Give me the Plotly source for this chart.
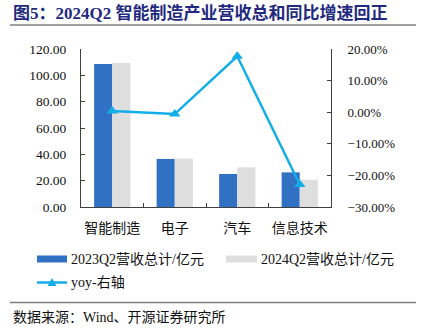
import plotly.graph_objects as go

categories = ["智能制造", "电子", "汽车", "信息技术"]
rev_2023q2 = [108.6, 36.5, 25.1, 26.3]
rev_2024q2 = [109.4, 36.7, 30.1, 20.7]
yoy_pct = [0.4, -0.6, 17.7, -22.9]

name_2023 = "2023Q2营收总计/亿元"
name_2024 = "2024Q2营收总计/亿元"
name_yoy = "yoy-右轴"
title_text = "图5：2024Q2 智能制造产业营收总和同比增速回正"
source_text = "数据来源：Wind、开源证券研究所"

W, H = 424, 330
ML, MR, MT, MB = 81, 93, 49, 123
PW, PH = W - ML - MR, H - MT - MB

def px(x):
    return (x - ML) / PW

def py(y):
    return (H - MB - y) / PH

C_BLUE = "#3071C3"
C_GRAY = "#DEDEDE"
C_LINE = "#12AEE8"
FONT = "Liberation Serif, Noto Sans CJK SC"

fig = go.Figure()
fig.add_trace(go.Bar(x=categories, y=rev_2023q2, name=name_2023, marker_color=C_BLUE,
                     marker_line_width=0))
fig.add_trace(go.Bar(x=categories, y=rev_2024q2, name=name_2024, marker_color=C_GRAY,
                     marker_line_width=0))
fig.add_trace(go.Scatter(x=categories, y=yoy_pct, name=name_yoy, yaxis="y2",
                         mode="lines+markers", line=dict(color=C_LINE, width=2.5),
                         marker=dict(symbol="triangle-up", size=10, color=C_LINE)))

axis_common = dict(showline=True, linecolor="#404040", linewidth=1, showgrid=False,
                   zeroline=False, ticks="inside", ticklen=4, tickcolor="#404040",
                   tickfont=dict(family=FONT, size=13.5, color="#111111"))

fig.update_layout(
    width=W, height=H,
    margin=dict(l=ML, r=MR, t=MT, b=MB, pad=0),
    paper_bgcolor="white", plot_bgcolor="white",
    barmode="group", bargap=0.42, bargroupgap=0,
    showlegend=False,
    font=dict(family=FONT, color="#111111"),
    xaxis=dict(**axis_common, tickson="boundaries", ticklabelstandoff=8, tickangle=0),
    yaxis=dict(**axis_common, range=[0, 120], dtick=20, tickformat=".2f",
               ticklabelstandoff=11),
    yaxis2=dict(**axis_common, overlaying="y", side="right", range=[-30, 20], dtick=10,
                tickformat=".2f", ticksuffix="%", ticklabelstandoff=13),
)
fig.update_layout(xaxis_tickfont_size=14, yaxis2_tickfont_size=13)

# title, rules, source
fig.add_annotation(xref="paper", yref="paper", x=px(11), y=py(13), xanchor="left",
                   yanchor="middle", showarrow=False, text="<b>" + title_text + "</b>",
                   font=dict(family=FONT, size=17, color="#1F2A80"))
for yy in (25, 302.5):
    fig.add_shape(type="line", xref="paper", yref="paper", x0=px(10), x1=px(416),
                  y0=py(yy), y1=py(yy), line=dict(color="#7F7F7F", width=1.5))
fig.add_annotation(xref="paper", yref="paper", x=px(11), y=py(317), xanchor="left",
                   yanchor="middle", showarrow=False, text=source_text,
                   font=dict(family=FONT, size=14, color="#111111"))

# custom legend
leg_font = dict(family=FONT, size=14, color="#111111")
fig.add_shape(type="rect", xref="paper", yref="paper", x0=px(37), x1=px(67),
              y0=py(262.5), y1=py(255.5), fillcolor=C_BLUE, line_width=0)
fig.add_annotation(xref="paper", yref="paper", x=px(69), y=py(259), xanchor="left",
                   yanchor="middle", showarrow=False, text=name_2023, font=leg_font)
fig.add_shape(type="rect", xref="paper", yref="paper", x0=px(226), x1=px(257),
              y0=py(262.5), y1=py(255.5), fillcolor=C_GRAY, line_width=0)
fig.add_annotation(xref="paper", yref="paper", x=px(259), y=py(259), xanchor="left",
                   yanchor="middle", showarrow=False, text=name_2024, font=leg_font)
fig.add_shape(type="line", xref="paper", yref="paper", x0=px(37), x1=px(67),
              y0=py(282.5), y1=py(282.5), line=dict(color=C_LINE, width=2.5))
tri = "M {},{} L {},{} L {},{} Z".format(px(47.5), py(286), px(56.5), py(286),
                                         px(52), py(278))
fig.add_shape(type="path", xref="paper", yref="paper", path=tri, fillcolor=C_LINE,
              line_width=0)
fig.add_annotation(xref="paper", yref="paper", x=px(69), y=py(282.5), xanchor="left",
                   yanchor="middle", showarrow=False, text=name_yoy, font=leg_font)

fig.write_html("out.html")
